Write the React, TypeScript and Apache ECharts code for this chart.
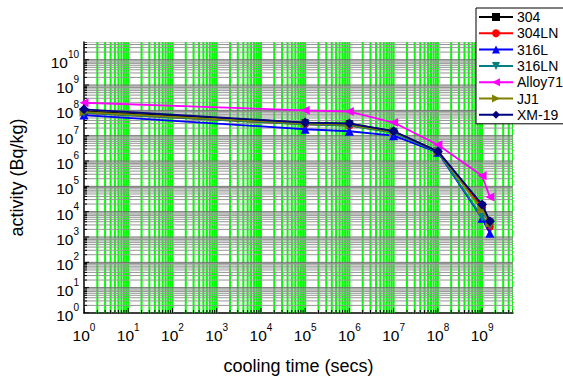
import React, { useEffect, useRef } from "react";
import * as echarts from "echarts";

const X_VALUES = [1, 1e5, 1e6, 1e7, 1e8, 1e9, 1.5e9];

const S304 = [9e7, 3.3e7, 3e7, 1.5e7, 2.4e6, 1.8e4, 4e3];
const S304LN = [8e7, 2.8e7, 2.5e7, 1.4e7, 2.3e6, 1.5e4, 2.5e3];
const S316L = [6.5e7, 1.8e7, 1.5e7, 1e7, 2.2e6, 5.5e3, 1.4e3];
const S316LN = [8e7, 2.8e7, 2.5e7, 1.3e7, 2.3e6, 6e3, 3e3];
const SALLOY71 = [2e8, 1e8, 9e7, 3.3e7, 4.4e6, 2.6e5, 3.8e4];
const SJJ1 = [8.5e7, 3e7, 2.7e7, 1.4e7, 2.4e6, 1.2e4, 3.5e3];
const SXM19 = [1.1e8, 3.3e7, 3e7, 1.5e7, 2.4e6, 1.9e4, 4.2e3];

const SERIES_NAMES = ["304", "304LN", "316L", "316LN", "Alloy71", "JJ1", "XM-19"];
const SERIES_VALUES = [S304, S304LN, S316L, S316LN, SALLOY71, SJJ1, SXM19];

const X_MIN = 1;
const X_MAX = 5e9;
const Y_MIN = 1;
const Y_MAX = 5e10;
const X_DECADES = [0, 1, 2, 3, 4, 5, 6, 7, 8, 9];
const Y_DECADES = [0, 1, 2, 3, 4, 5, 6, 7, 8, 9, 10];
const MULTS = [1, 2, 3, 4, 5, 6, 7, 8, 9];

const COLORS = ["#000000", "#ff0000", "#0000ff", "#008080", "#ff00ff", "#808000", "#000080"];
const SYMBOLS = ["rect", "circle", "triangle", "triangle", "triangle", "triangle", "diamond"];
const ROTATES = [0, 0, 0, 180, 90, -90, 0];
const SIZES = [7, 8, 9, 9, 9, 9, 10];

function gridVals(decades: number[], max: number) {
  const out: number[] = [];
  decades.forEach((d) => {
    MULTS.forEach((m) => {
      const v = m * Math.pow(10, d);
      if (v <= max) out.push(v);
    });
  });
  return out;
}

const FONT = "Liberation Sans, Arial, sans-serif";

function fmt(v: number) {
  const e = Math.log10(v);
  const r = Math.round(e);
  if (Math.abs(e - r) > 1e-6) return "";
  return `{b|10}{s|${r}}`;
}

const rich = {
  b: { fontSize: 15.5, color: "#000", fontFamily: FONT, padding: [5, 0, 0, 0] },
  s: { fontSize: 10, color: "#000", fontFamily: FONT, verticalAlign: "top" },
};

export default function App() {
  const ref = useRef<HTMLDivElement>(null);
  useEffect(() => {
    if (!ref.current) return;
    const chart = echarts.init(ref.current, undefined, { renderer: "svg" });
    const xv = gridVals(X_DECADES, X_MAX);
    const yv = gridVals(Y_DECADES, Y_MAX);

    const vertical = {
      type: "custom",
      silent: true,
      z: 1,
      clip: true,
      data: xv.map((v) => [v, 1]),
      renderItem: (params: any, api: any) => {
        const cs = params.coordSys;
        const val = api.value(0);
        const x = api.coord([val, 1])[0];
        const major = Math.abs(Math.log10(val) - Math.round(Math.log10(val))) < 1e-6;
        const children: any[] = [];
        if (val > 1) {
          children.push({
            type: "line",
            shape: { x1: x, y1: cs.y, x2: x, y2: cs.y + cs.height },
            style: { stroke: "#00ff00", lineWidth: 2 },
          });
        }
        children.push({
          type: "line",
          shape: { x1: x, y1: cs.y + cs.height, x2: x, y2: cs.y + cs.height - (major ? 5 : 3) },
          style: { stroke: "#000", lineWidth: 1 },
          z2: 10,
        });
        return { type: "group", children };
      },
    };
    const horizontal = {
      type: "custom",
      silent: true,
      z: 2,
      clip: true,
      data: yv.map((v) => [1, v]),
      renderItem: (params: any, api: any) => {
        const cs = params.coordSys;
        const val = api.value(1);
        const y = api.coord([1, val])[1];
        const major = Math.abs(Math.log10(val) - Math.round(Math.log10(val))) < 1e-6;
        const children: any[] = [];
        if (val > 1) {
          children.push({
            type: "line",
            shape: { x1: cs.x, y1: y, x2: cs.x + cs.width, y2: y },
            style: { stroke: major ? "#707070" : "#959595", lineWidth: 1 },
          });
        }
        children.push({
          type: "line",
          shape: { x1: cs.x, y1: y, x2: cs.x + (major ? 5 : 3), y2: y },
          style: { stroke: "#000", lineWidth: 1 },
        });
        return { type: "group", children };
      },
    };

    const lineSeries = SERIES_NAMES.map((name, i) => ({
      name,
      type: "line",
      z: 5 + i,
      data: X_VALUES.map((x, j) => [x, SERIES_VALUES[i][j]]),
      symbol: SYMBOLS[i],
      symbolSize: SIZES[i],
      symbolRotate: ROTATES[i],
      showAllSymbol: true,
      lineStyle: { color: COLORS[i], width: 1.8 },
      itemStyle: { color: COLORS[i] },
    }));

    chart.setOption({
      animation: false,
      backgroundColor: "#ffffff",
      textStyle: { fontFamily: FONT },
      grid: { left: 82, right: 50, top: 42, bottom: 57, containLabel: false },
      legend: {
        data: SERIES_NAMES,
        orient: "vertical",
        left: 476,
        top: 8,
        padding: [2, 20, 2, 2],
        itemGap: 2.3,
        itemWidth: 34,
        itemHeight: 10,
        backgroundColor: "#ffffff",
        borderColor: "#000",
        borderWidth: 1,
        textStyle: { fontSize: 14, color: "#000", fontFamily: FONT, padding: [0, 0, 0, -1] },
      },
      xAxis: {
        type: "log",
        logBase: 10,
        min: X_MIN,
        max: X_MAX,
        interval: 1,
        name: "cooling time (secs)",
        nameLocation: "middle",
        nameGap: 44,
        nameTextStyle: { fontSize: 18, color: "#000", fontFamily: FONT },
        axisLine: { show: true, lineStyle: { color: "#000", width: 1.5 } },
        axisTick: { show: false },
        splitLine: { show: false },
        axisLabel: { formatter: fmt, rich, margin: 9, showMaxLabel: false },
      },
      yAxis: {
        type: "log",
        logBase: 10,
        min: Y_MIN,
        max: Y_MAX,
        interval: 1,
        name: "activity (Bq/kg)",
        nameLocation: "middle",
        nameGap: 58,
        nameTextStyle: { fontSize: 18, color: "#000", fontFamily: FONT },
        axisLine: { show: true, lineStyle: { color: "#000", width: 1.5 } },
        axisTick: { show: false },
        splitLine: { show: false },
        axisLabel: { formatter: fmt, rich, margin: 5, showMaxLabel: false },
      },
      series: [vertical, horizontal, ...lineSeries],
    });
    return () => chart.dispose();
  }, []);
  return (
    <div
      ref={ref}
      style={{ position: "absolute", left: 0, top: 0, width: 563, height: 380 }}
    />
  );
}
